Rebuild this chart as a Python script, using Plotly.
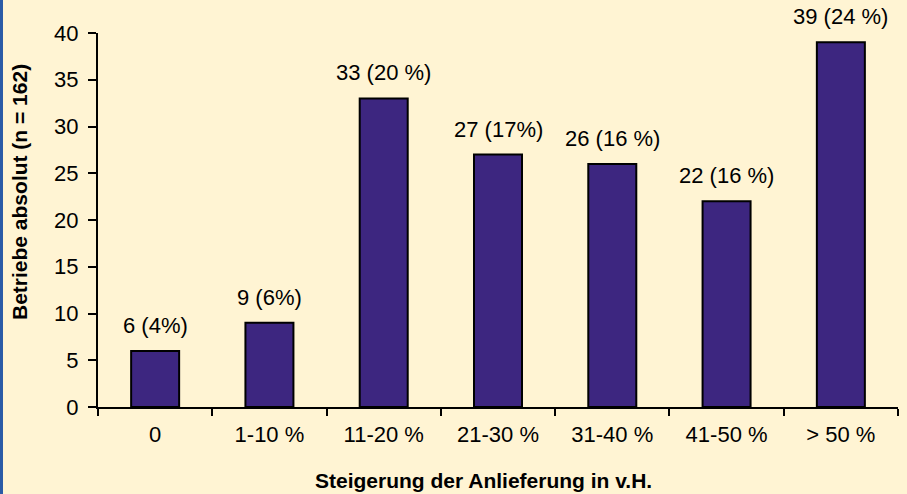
import plotly.graph_objects as go

categories = ["0", "1-10 %", "11-20 %", "21-30 %", "31-40 %", "41-50 %", "> 50 %"]
values = [6, 9, 33, 27, 26, 22, 39]
labels = ["6 (4%)", "9 (6%)", "33 (20 %)", "27 (17%)", "26 (16 %)", "22 (16 %)", "39 (24 %)"]
y_ticks = [0, 5, 10, 15, 20, 25, 30, 35, 40]

FONT = "Liberation Sans, Arial, sans-serif"
BG = "#FFF4D3"
W, H = 907, 494
ML, MR, MT, MB = 98, 9, 33, 87
TICK_SIZE = 22
TITLE_SIZE = 21

fig = go.Figure()
fig.add_trace(go.Bar(
    x=categories, y=values, width=0.42,
    marker=dict(color="#3D2680", line=dict(color="black", width=2)),
    hoverinfo="x+y",
))

for c, v, t in zip(categories, values, labels):
    fig.add_annotation(x=c, y=v, text=t, showarrow=False, yanchor="bottom",
                       yshift=11, font=dict(family=FONT, size=TICK_SIZE, color="black"))

pw = W - ML - MR
ph = H - MT - MB
fig.add_annotation(xref="paper", yref="paper", x=(483 - ML) / pw, y=-(480 - H + MB) / ph,
                   text="<b>Steigerung der Anlieferung in v.H.</b>", showarrow=False,
                   xanchor="center", yanchor="middle",
                   font=dict(family=FONT, size=TITLE_SIZE, color="black"))
fig.add_annotation(xref="paper", yref="paper", x=-(ML - 19) / pw, y=(H - MB - 192) / ph,
                   text="<b>Betriebe absolut (n = 162)</b>", showarrow=False, textangle=-90,
                   xanchor="center", yanchor="middle",
                   font=dict(family=FONT, size=TITLE_SIZE, color="black"))

# blue frame strip on left edge
fig.add_shape(type="rect", xref="paper", yref="paper",
              x0=-ML / pw, x1=-(ML - 3) / pw, y0=-MB / ph, y1=1 + MT / ph,
              fillcolor="#2B5BA6", line=dict(width=0), layer="above")

fig.update_layout(
    width=W, height=H,
    margin=dict(l=ML, r=MR, t=MT, b=MB),
    paper_bgcolor=BG, plot_bgcolor=BG,
    showlegend=False,
    font=dict(family=FONT, size=TICK_SIZE, color="black"),
)
fig.update_xaxes(showline=True, linecolor="black", linewidth=2, ticks="outside",
                 tickson="boundaries", ticklen=7, tickwidth=2, tickcolor="black",
                 showgrid=False, tickfont=dict(size=TICK_SIZE), zeroline=False,
                 ticklabelstandoff=7)
fig.update_yaxes(range=[0, 40], tickvals=y_ticks, showline=True, linecolor="black",
                 linewidth=2, ticks="outside", ticklen=8, tickwidth=2, tickcolor="black",
                 showgrid=False, zeroline=False, tickfont=dict(size=TICK_SIZE),
                 ticklabelstandoff=5)

fig.write_html("out.html", config={"displayModeBar": False},
               post_script="document.body.style.margin='0';document.body.style.overflow='hidden';")
